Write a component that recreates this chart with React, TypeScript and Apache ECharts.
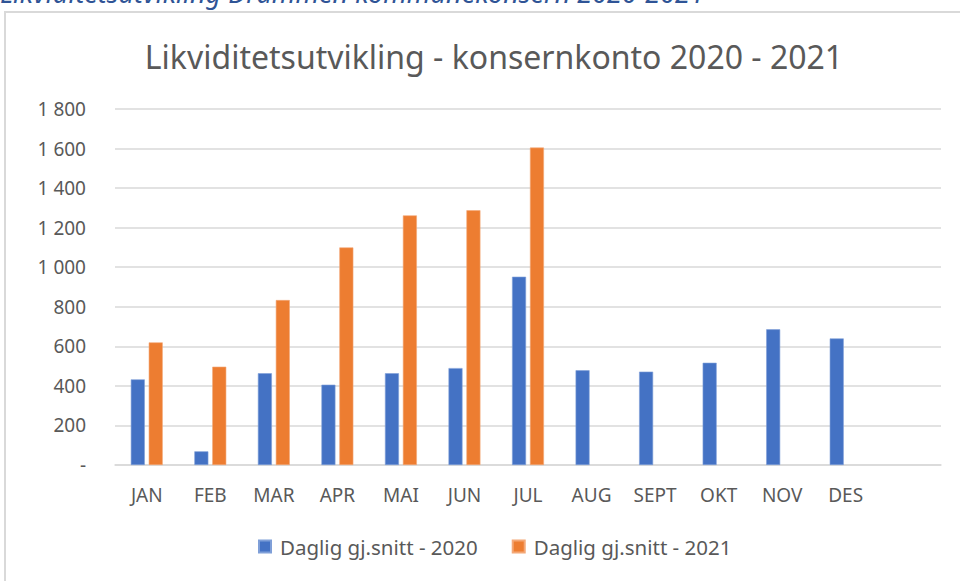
import React, { useEffect, useRef } from "react";
import * as echarts from "echarts";

const categories = ["JAN", "FEB", "MAR", "APR", "MAI", "JUN", "JUL", "AUG", "SEPT", "OKT", "NOV", "DES", ""];
const values2020 = [433, 69, 464, 406, 464, 490, 952, 479, 472, 517, 686, 640, null];
const values2021 = [620, 497, 834, 1100, 1262, 1288, 1605, null, null, null, null, null, null];
const seriesNames = ["Daglig gj.snitt - 2020", "Daglig gj.snitt - 2021"];
const titleText = "Likviditetsutvikling - konsernkonto 2020 - 2021";
const headingText = "Likviditetsutvikling Drammen kommunekonsern 2020-2021";

const FONT = "'Noto Sans', 'DejaVu Sans', sans-serif";

export default function App() {
  const ref = useRef<HTMLDivElement>(null);
  useEffect(() => {
    if (!ref.current) return;
    const chart = echarts.init(ref.current, null, { renderer: "svg" });
    chart.setOption({
      animation: false,
      backgroundColor: "#ffffff",
      textStyle: { fontFamily: FONT },
      title: {
        text: titleText,
        left: 489,
        textAlign: "center",
        top: 35,
        textStyle: { color: "#595959", fontSize: 32, fontWeight: "normal", fontFamily: FONT },
      },
      graphic: [
        {
          type: "text",
          left: 0,
          top: -21,
          style: {
            text: headingText,
            fill: "#2F5496",
            font: "italic 27px 'Noto Sans', sans-serif",
          },
        },
        {
          type: "rect",
          shape: { x: 5, y: 12, width: 1000, height: 700 },
          style: { fill: "none", stroke: "#D9D9D9", lineWidth: 2 },
          silent: true,
        },
      ],
      legend: {
        bottom: 19,
        left: 253,
        icon: "rect",
        itemWidth: 12,
        itemHeight: 12,
        itemGap: 34,
        textStyle: { color: "#595959", fontSize: 20.5, fontFamily: FONT, padding: [0, 0, 0, 4] },
        data: seriesNames,
      },
      grid: { left: 115, right: 19, top: 109, bottom: 116 },
      xAxis: {
        type: "category",
        data: categories,
        axisLine: { show: true, lineStyle: { color: "#D9D9D9", width: 1.5 } },
        axisTick: { show: false },
        axisLabel: { color: "#595959", fontSize: 19, margin: 20, fontFamily: FONT },
      },
      yAxis: {
        type: "value",
        min: 0,
        max: 1800,
        interval: 200,
        axisLine: { show: false },
        axisTick: { show: false },
        splitLine: { lineStyle: { color: "#D9D9D9", width: 1.5 } },
        axisLabel: {
          color: "#595959",
          fontSize: 19,
          margin: 29,
          fontFamily: FONT,
          formatter: (v: number) =>
            v === 0 ? "-" : String(v).replace(/\B(?=(\d{3})+(?!\d))/g, " "),
        },
      },
      series: [
        {
          name: seriesNames[0],
          type: "bar",
          data: values2020,
          barWidth: 14,
          barGap: "28%",
          itemStyle: { color: "#4472C4", borderColor: "#7f9fd8", borderWidth: 0.6 },
        },
        {
          name: seriesNames[1],
          type: "bar",
          data: values2021,
          barWidth: 14,
          itemStyle: { color: "#ED7D31", borderColor: "#f4a877", borderWidth: 0.6 },
        },
      ],
    });
    return () => chart.dispose();
  }, []);
  return (
    <div
      ref={ref}
      style={{ position: "absolute", left: 0, top: 0, width: 960, height: 581 }}
    />
  );
}
